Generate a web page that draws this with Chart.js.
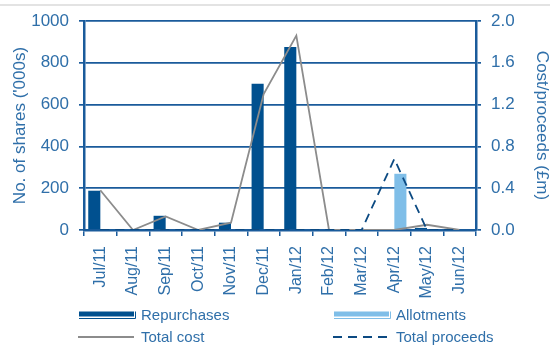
<!DOCTYPE html>
<html>
<head>
<meta charset="utf-8">
<script src="https://cdn.jsdelivr.net/npm/chart.js@4/dist/chart.umd.min.js"></script>
<style>
  html, body { margin: 0; padding: 0; background: #ffffff; }
  #wrap { width: 550px; height: 345px; position: relative; }
</style>
</head>
<body>
<div id="wrap"><canvas id="c" width="550" height="345"></canvas></div>
<script>
// Monthly share buy-backs and allotments
const months = ['Jul/11', 'Aug/11', 'Sep/11', 'Oct/11', 'Nov/11', 'Dec/11',
                'Jan/12', 'Feb/12', 'Mar/12', 'Apr/12', 'May/12', 'Jun/12'];
// number of shares, thousands
const repurchases = [188, 0, 68, 0, 35, 700, 876, 0, 0, 0, 10, 4];
const allotments  = [0, 0, 0, 0, 0, 0, 0, 0, 0, 269, 0, 0];
// £m
const totalCost     = [0.38, 0, 0.13, 0, 0.07, 1.30, 1.86, 0, 0, 0, 0.05, 0];
const totalProceeds = [0, 0, 0, 0, 0, 0, 0, 0, 0, 0.68, 0, 0];
// axis ticks
const shareTicks = [0, 200, 400, 600, 800, 1000];
const costTicks  = [0, 0.4, 0.8, 1.2, 1.6, 2.0];

const NAVY = '#00508f';
const LIGHT = '#7fbee8';
const GREY = '#8c8c8c';
const AXIS = '#1a5b9b';
const TEXT = '#2f6fa9';
const FONT = "'Liberation Sans', Arial, sans-serif";

// two-row legend drawn under the axis labels
const legendPlugin = {
  id: 'twoRowLegend',
  beforeDraw(chart) {
    const ctx = chart.ctx;
    ctx.save();
    ctx.strokeStyle = '#e3e3e3';
    ctx.lineWidth = 2;
    ctx.beginPath();
    ctx.moveTo(0, 5);
    ctx.lineTo(550, 5);
    ctx.stroke();
    ctx.restore();
  },
  afterDraw(chart) {
    const ctx = chart.ctx;
    const ds = chart.data.datasets;
    const cols = [78, 333];
    const rows = [315, 337];
    const items = [
      { d: ds[0], col: 0, row: 0, kind: 'box' },
      { d: ds[1], col: 1, row: 0, kind: 'box' },
      { d: ds[2], col: 0, row: 1, kind: 'line' },
      { d: ds[3], col: 1, row: 1, kind: 'line' }
    ];
    ctx.save();
    items.forEach(it => {
      const x = cols[it.col];
      const y = rows[it.row];
      if (it.kind === 'box') {
        ctx.fillStyle = it.d.backgroundColor;
        ctx.fillRect(x + 1, y - 3.5, 55, 5);
        ctx.strokeStyle = it.d.backgroundColor;
        ctx.lineWidth = 1;
        ctx.beginPath();
        ctx.moveTo(x + 1, y + 3.5);
        ctx.lineTo(x + 57.5, y + 3.5);
        ctx.lineTo(x + 57.5, y - 3.5);
        ctx.stroke();
      } else {
        ctx.strokeStyle = it.d.borderColor;
        ctx.lineWidth = 2;
        ctx.setLineDash(it.d.borderDash || []);
        ctx.beginPath();
        ctx.moveTo(x, y);
        ctx.lineTo(x + 56, y);
        ctx.stroke();
        ctx.setLineDash([]);
      }
      ctx.fillStyle = TEXT;
      ctx.font = '15px ' + FONT;
      ctx.textBaseline = 'middle';
      ctx.textAlign = 'left';
      ctx.fillText(it.d.label, x + 63, y + 0.5);
    });
    ctx.restore();
  }
};

new Chart(document.getElementById('c'), {
  type: 'bar',
  data: {
    labels: months,
    datasets: [
      { label: 'Repurchases', data: repurchases, backgroundColor: NAVY, yAxisID: 'y', order: 2 },
      { label: 'Allotments', data: allotments, backgroundColor: LIGHT, yAxisID: 'y', order: 2 },
      { type: 'line', label: 'Total cost', data: totalCost, borderColor: GREY, borderWidth: 1.8,
        pointRadius: 0, tension: 0, fill: false, yAxisID: 'y2', order: 1 },
      { type: 'line', label: 'Total proceeds', data: totalProceeds, borderColor: '#0c4a82', borderWidth: 1.8,
        borderDash: [9, 6], pointRadius: 0, tension: 0, fill: false, yAxisID: 'y2', order: 0 }
    ]
  },
  options: {
    responsive: false,
    animation: false,
    layout: { padding: { top: 21, left: 0, right: 0, bottom: 0 } },
    datasets: { bar: { categoryPercentage: 0.74, barPercentage: 1.0 } },
    plugins: { legend: { display: false }, tooltip: { enabled: false } },
    scales: {
      x: {
        offset: true,
        grid: { offset: true, drawOnChartArea: false, color: AXIS, lineWidth: 1.5, tickLength: 6 },
        border: { color: AXIS, width: 2.5 },
        ticks: { color: TEXT, font: { family: FONT, size: 16 }, minRotation: 90, maxRotation: 90, padding: 10 },
        afterFit(s) { s.height = 115; }
      },
      y: {
        position: 'left',
        min: 0, max: 1000,
        afterBuildTicks(s) { s.ticks = shareTicks.map(v => ({ value: v })); },
        grid: { color: AXIS, lineWidth: 1.7, tickLength: 5 },
        border: { color: AXIS, width: 2.5 },
        ticks: { color: TEXT, font: { family: FONT, size: 17 }, padding: 10,
                 callback: v => String(v) },
        title: { display: true, text: "No. of shares ('000s)", color: TEXT,
                 font: { family: FONT, size: 17, lineHeight: 1 }, padding: { top: 12, bottom: 0 } },
        afterFit(s) { s.width = 84; }
      },
      y2: {
        position: 'right',
        min: 0, max: 2,
        afterBuildTicks(s) { s.ticks = costTicks.map(v => ({ value: v })); },
        grid: { drawOnChartArea: false, color: AXIS, lineWidth: 1.7, tickLength: 5 },
        border: { color: AXIS, width: 2.5 },
        ticks: { color: TEXT, font: { family: FONT, size: 17 }, padding: 10,
                 callback: v => Number(v).toFixed(1) },
        title: { display: true, text: 'Cost/proceeds (£m)', color: TEXT,
                 font: { family: FONT, size: 17, lineHeight: 1 }, padding: { top: 0, bottom: 0 } },
        afterFit(s) { s.width = 74; }
      }
    }
  },
  plugins: [legendPlugin]
});
</script>
</body>
</html>
